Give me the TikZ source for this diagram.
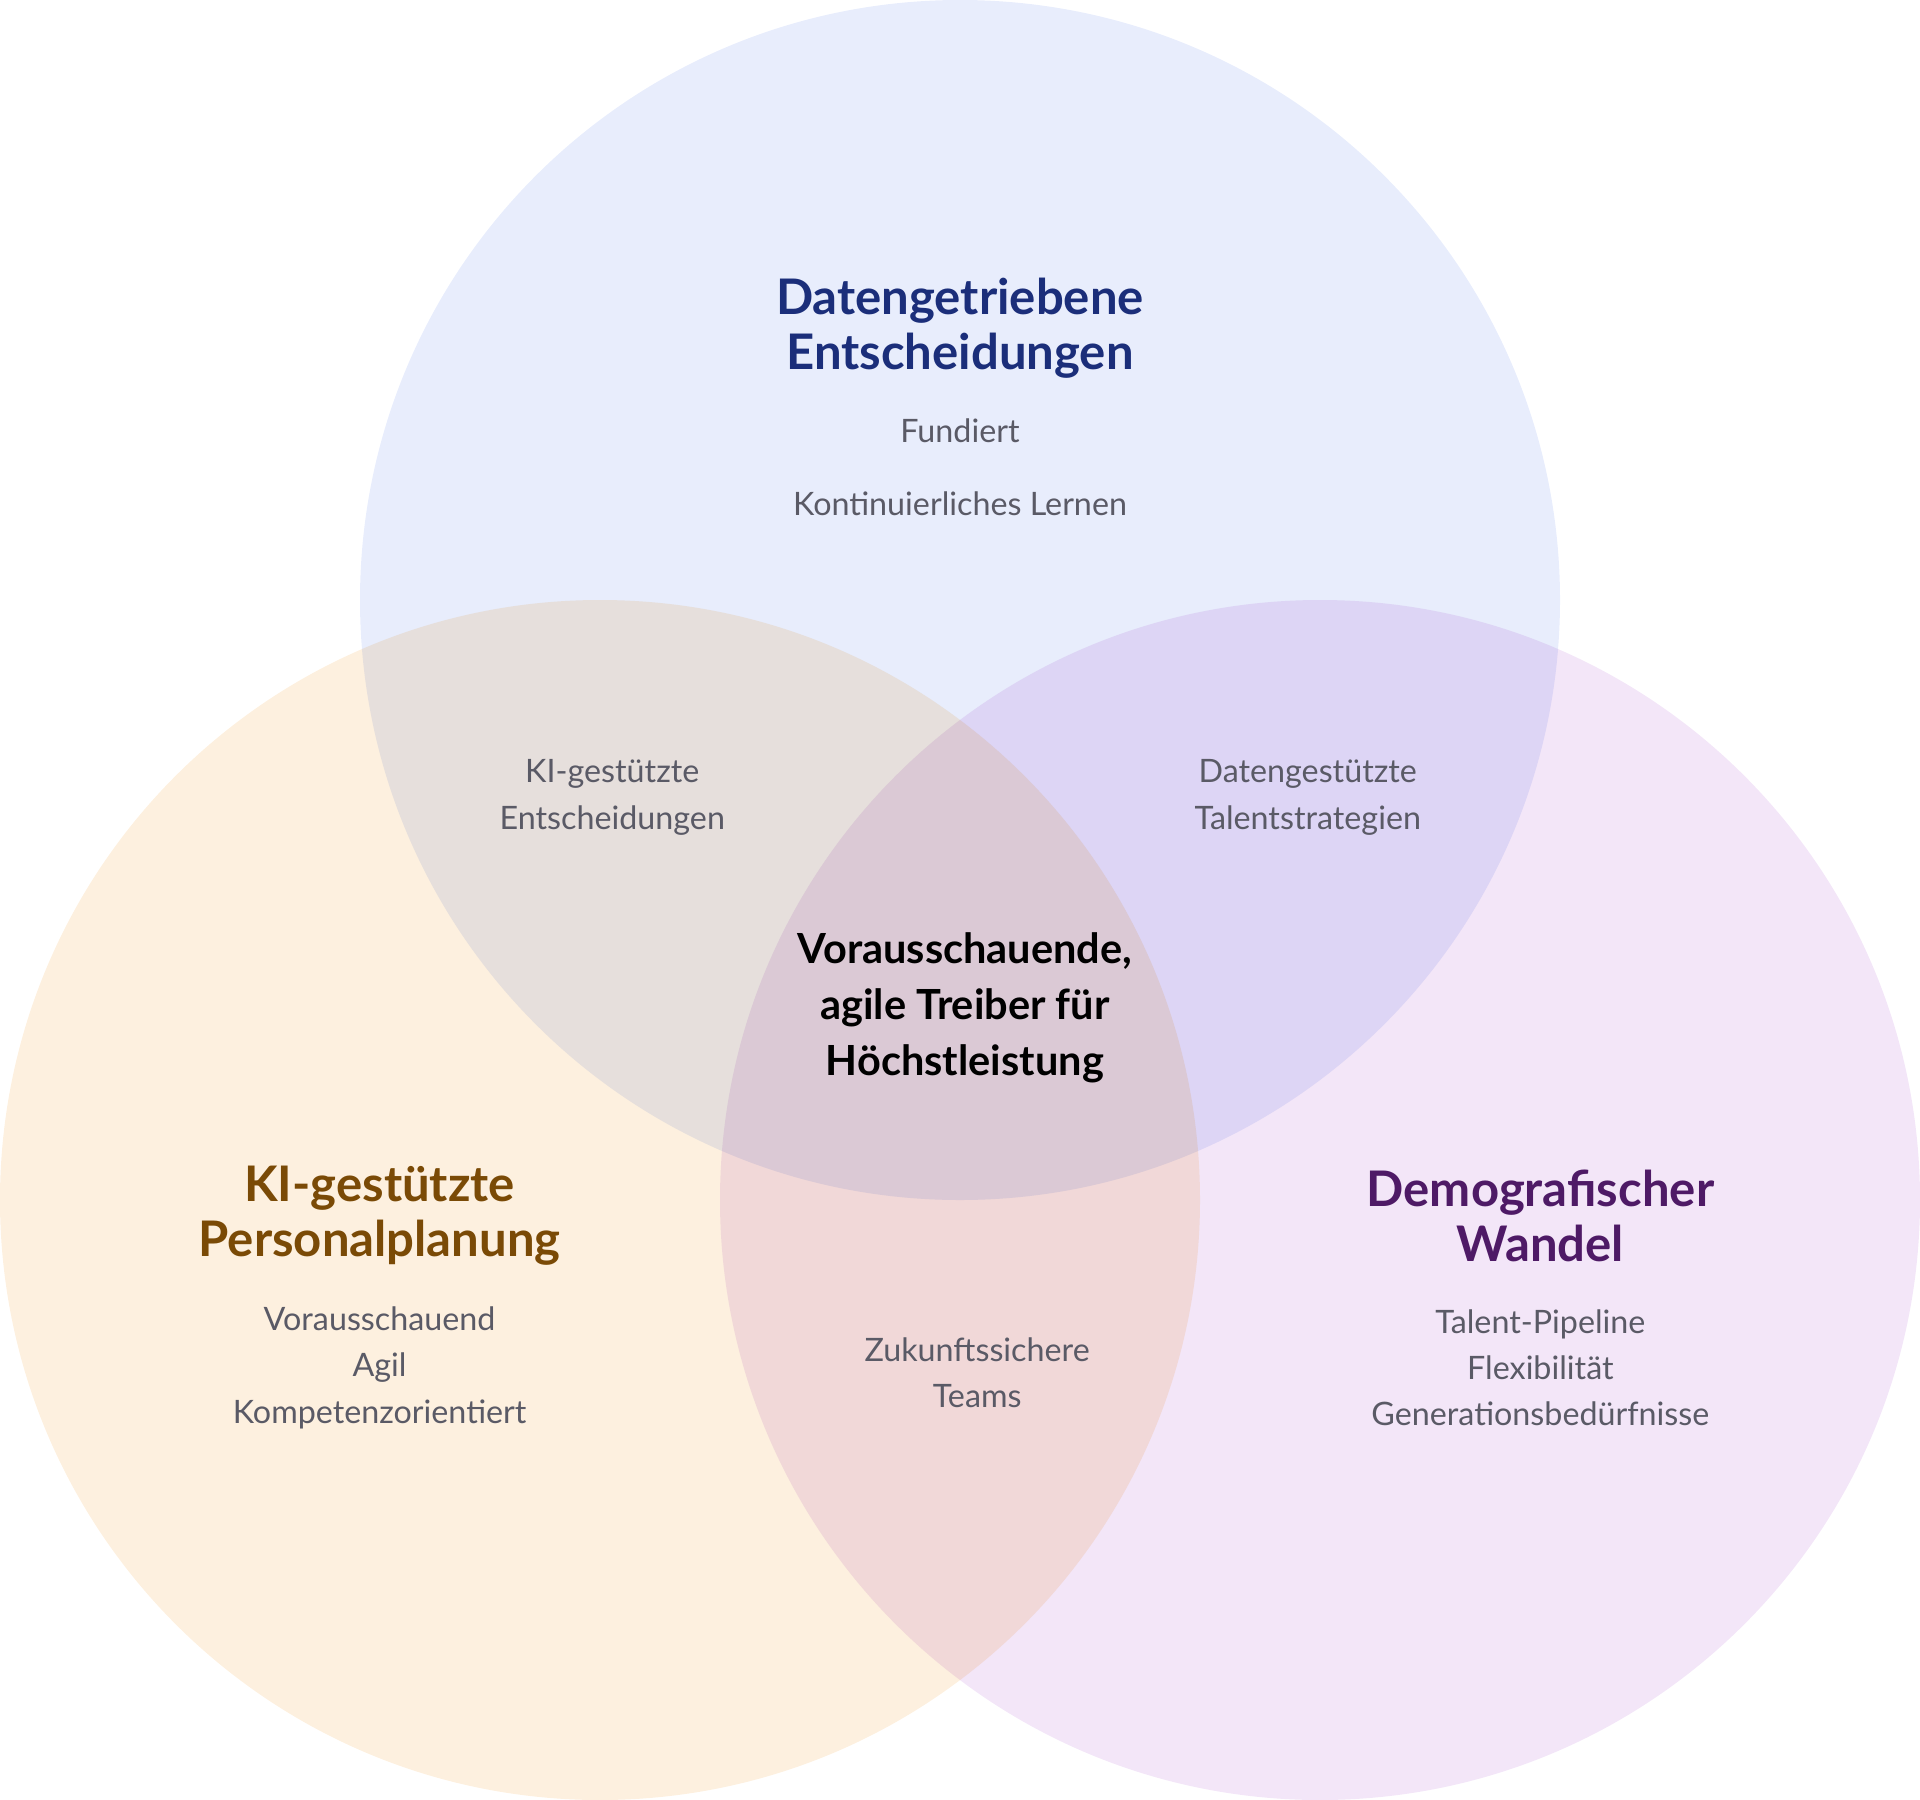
\documentclass[tikz,border=0pt]{standalone}
\usepackage{fontspec}
\setmainfont{Lato}
\definecolor{bluefill}{HTML}{E8EDFC}
\definecolor{orangefill}{HTML}{FDF0DF}
\definecolor{purplefill}{HTML}{F3E6F8}
\definecolor{bluetitle}{HTML}{1B2E7A}
\definecolor{orangetitle}{HTML}{7A4A06}
\definecolor{purpletitle}{HTML}{4E1A66}
\definecolor{itemgray}{HTML}{5A5A66}
\tikzset{
	titletext/.style={align=center, font=\fontsize{22.8}{25.6}\selectfont\bfseries},
	itemtext/.style={align=center, text=itemgray, font=\fontsize{15}{21.6}\selectfont},
	coretext/.style={align=center, font=\fontsize{19.3}{26}\selectfont\bfseries}
}
\begin{document}
\begin{tikzpicture}[x=0.02cm, y=-0.02cm]
		\useasboundingbox (0,0) rectangle (1568,1470);
		\begin{scope}[blend group=multiply]
			\fill[bluefill] (784,490) circle[radius=490];
			\fill[orangefill] (490,980) circle[radius=490];
			\fill[purplefill] (1078,980) circle[radius=490];
		\end{scope}
		
		\node[titletext, text=bluetitle] (datatitle) at (784,268) {Datengetriebene\\Entscheidungen};
		\node[itemtext] (fundiert) at (784,352) {Fundiert};
		\node[itemtext] (lernen) at (784,411) {Kontinuierliches Lernen};
		
		\node[titletext, text=orangetitle] (kititle) at (310,993) {KI-gestützte\\Personalplanung};
		\node[itemtext] (kiitems) at (310,1117) {Vorausschauend\\Agil\\Kompetenzorientiert};
		
		\node[titletext, text=purpletitle] (demotitle) at (1258,993) {Demografischer\\Wandel};
		\node[itemtext] (demoitems) at (1258,1117) {Talent-Pipeline\\Flexibilität\\Generationsbedürfnisse};
		
		\node[itemtext] (kidata) at (500,651) {KI-gestützte\\Entscheidungen};
		\node[itemtext] (datademo) at (1068,651) {Datengestützte\\Talentstrategien};
		\node[itemtext] (kidemo) at (798,1121) {Zukunftssichere\\Teams};
		
		\node[coretext] (core) at (788,823) {Vorausschauende,\\agile Treiber für\\Höchstleistung};
	\end{tikzpicture}
\end{document}
